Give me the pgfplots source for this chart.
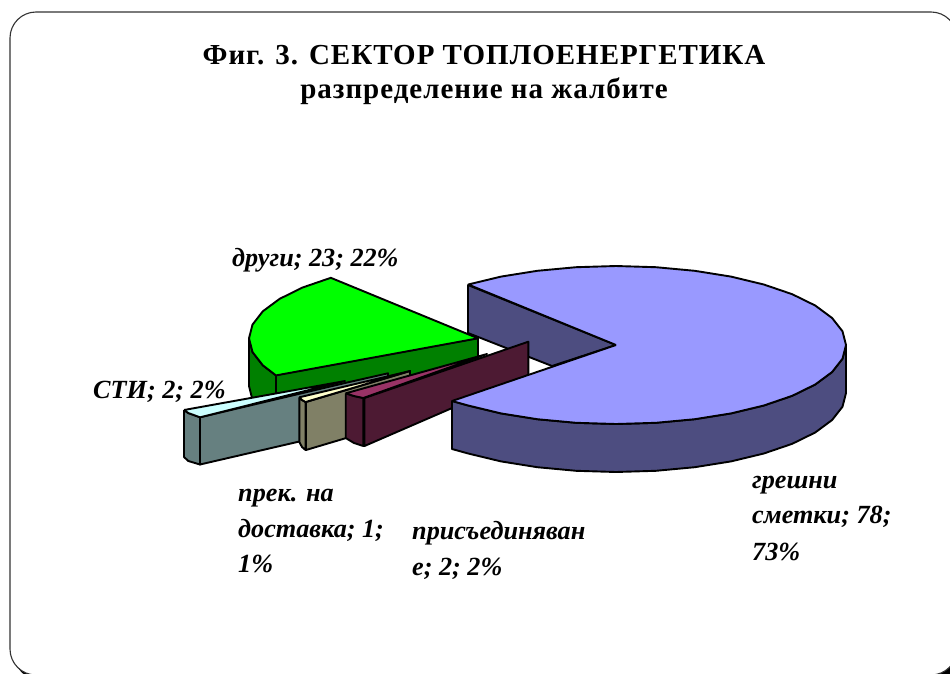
\documentclass[border=0pt]{standalone}
\usepackage{pgfplots}
\pgfplotsset{compat=1.18}
\usepackage{fontspec}
\setmainfont{Liberation Serif}
\definecolor{pieA}{HTML}{9999FF}\definecolor{pieAd}{HTML}{4D4D80}
\definecolor{pieB}{HTML}{00FF00}\definecolor{pieBd}{HTML}{008000}
\definecolor{pieC}{HTML}{CCFFFF}\definecolor{pieCd}{HTML}{668080}
\definecolor{pieD}{HTML}{FFFFCC}\definecolor{pieDd}{HTML}{808066}
\definecolor{pieE}{HTML}{993366}\definecolor{pieEd}{HTML}{4D1A33}
\begin{document}
\begin{tikzpicture}[x=1pt,y=1pt]
\clip[use as bounding box] (0,0) rectangle (950,673);
% frame: y measured from the top of the picture is 673-y
\fill[black,rounded corners=26pt] (14,-7) rectangle (962,657);
\draw[fill=white,draw=black!80,line width=1.1pt,rounded corners=26pt] (10,-2) rectangle (957,661);
\begin{axis}[at={(0,0)},anchor=south west,scale only axis,width=950pt,height=673pt,
  xmin=0,xmax=950,ymin=0,ymax=673,y dir=reverse,hide axis,clip mode=individual,
  every axis plot/.append style={draw=black,line width=1.9pt,line join=round,mark=none}]
% main slice: inner face
\addplot[fill=pieAd] coordinates {(468,285)(616,345)(552,366)(468,333)(468,285)};
% green slice
\addplot[fill=pieBd] coordinates {(478,338)(276,375)(276,423)(478,386)(478,338)};
\addplot[fill=pieBd] coordinates {(249,338)(252.5,352)(262.8,365.3)(276,375.4)(276,423)(262.8,413)(252.5,400)(249,386)(249,338)};
\addplot[fill=pieB] coordinates {(478,338.3)(330.8,277.8)(302.6,287.5)(279.7,298.8)(262.8,311.3)(252.5,324.6)(249,338.3)(252.5,352)(262.8,365.3)(276,375.4)(478,338.3)};
% cyan slice
\addplot[fill=pieCd] coordinates {(184,410)(188.3,413)(200,417.3)(200,464.5)(188.3,461)(184,457)(184,410)};
\addplot[fill=pieCd] coordinates {(200,417.3)(345,383)(388,373.3)(388,421)(200,464.5)(200,417.3)};
\addplot[fill=pieC] coordinates {(184,410)(188.3,413)(200,417.3)(345,381)(184,410)};
% tan slice
\addplot[fill=pieDd] coordinates {(299.3,397.3)(302,400)(305.5,402)(305.5,450)(302,447)(299.3,442)(299.3,397.3)};
\addplot[fill=pieDd] coordinates {(306,402)(410,371)(410,419)(306,450)(306,402)};
\addplot[fill=pieD] coordinates {(299.3,397.3)(302,400)(305.5,402)(410,371)(299.3,397.3)};
% maroon slice
\addplot[fill=pieEd] coordinates {(345.7,393.3)(354,396)(363.3,398)(363.3,446)(354,443)(345.7,438)(345.7,393.3)};
\addplot[fill=pieEd] coordinates {(364.5,398)(528.3,341.7)(528.3,375)(364.5,446)(364.5,398)};
\addplot[fill=pieE] coordinates {(345.7,393.3)(354,396)(363.3,398)(487,354)(345.7,393.3)};
% main slice: outer side and top
\addplot[fill=pieAd] coordinates {(452,401)(468.2,405.5)(501,413.4)(537.3,419.2)(576.1,422.8)(616,424)(655.9,422.8)(694.7,419.2)(731,413.4)(763.8,405.5)(792.2,395.8)(815.2,384.5)(832.1,372)(842.5,358.7)(846,345)
 (846,393)(842.5,406.7)(832.1,420)(815.2,432.5)(792.2,443.8)(763.8,453.5)(731,461.4)(694.7,467.2)(655.9,470.8)(616,472)(576.1,470.8)(537.3,467.2)(501,461.4)(468.2,453.5)(452,449)(452,401)};
\addplot[fill=pieA] coordinates {(616,345)(468.2,284.5)(501,276.6)(537.3,270.8)(576.1,267.2)(616,266)(655.9,267.2)(694.7,270.8)(731,276.6)(763.8,284.5)(792.2,294.2)(815.2,305.5)(832.1,318)(842.5,331.3)(846,345)(842.5,358.7)(832.1,372)(815.2,384.5)(792.2,395.8)(763.8,405.5)(731,413.4)(694.7,419.2)(655.9,422.8)(616,424)(576.1,422.8)(537.3,419.2)(501,413.4)(468.2,405.5)(452,401)(616,345)};
% texts
\tikzset{ttl/.style={anchor=base,font=\fontsize{29}{29}\selectfont\bfseries\addfontfeatures{LetterSpace=3.4}}}
\node[ttl] at (axis cs:484,64) {Фиг. 3. СЕКТОР ТОПЛОЕНЕРГЕТИКА};
\node[ttl] at (axis cs:484,98) {разпределение на жалбите};
\tikzset{lab/.style={anchor=base west,inner sep=0pt,font=\fontsize{26.2}{26.2}\selectfont\bfseries\itshape}}
\node[lab] at (axis cs:232,266) {други; 23; 22\%};
\node[lab] at (axis cs:93,398) {СТИ; 2; 2\%};
\node[lab] at (axis cs:238,501) {прек. на};
\node[lab] at (axis cs:238,537) {доставка; 1;};
\node[lab] at (axis cs:238,572) {1\%};
\node[lab] at (axis cs:412,539) {присъединяван};
\node[lab] at (axis cs:412,575) {е; 2; 2\%};
\node[lab] at (axis cs:752,488) {грешни};
\node[lab] at (axis cs:752,523) {сметки; 78;};
\node[lab] at (axis cs:752,560) {73\%};
\end{axis}
\end{tikzpicture}
\end{document}
